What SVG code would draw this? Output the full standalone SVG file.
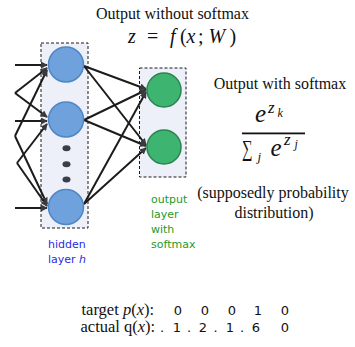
<svg xmlns="http://www.w3.org/2000/svg" width="355" height="347" viewBox="0 0 355 347">
  <style>
    .layer { fill: #edf0f8; stroke: #1a1a1a; stroke-width: 1; stroke-dasharray: 3 2; }
    .hid { fill: #6fa2dc; stroke: #4f86c6; stroke-width: 1.5; }
    .out { fill: #3db46f; stroke: #2c8452; stroke-width: 1.5; }
    .dot { fill: #3a3d4a; }
    .edge { stroke: #1c1c1c; stroke-width: 2; fill: none; marker-end: url(#arrow); }
    .ser { font-family: "Liberation Serif", "Times New Roman", serif; fill: #111; }
    .mi { font-family: "Liberation Serif", "Times New Roman", serif; font-style: italic; fill: #111; }
    .mu { font-family: "Liberation Serif", "Times New Roman", serif; fill: #111; }
    .lbl { font-family: "DejaVu Sans", Verdana, sans-serif; font-size: 11px; }
    .num { font-family: "DejaVu Sans", sans-serif; font-size: 13px; fill: #111; }
  </style>
  <defs>
    <marker id="arrow" viewBox="0 0 8 8" refX="7" refY="4" markerWidth="7" markerHeight="7" markerUnits="userSpaceOnUse" orient="auto">
      <path d="M0,0 L8,4 L0,8 z" fill="#3a3a3a"/>
    </marker>
  </defs>

  <!-- layer frames -->
  <rect class="layer" x="41" y="43" width="47" height="185"/>
  <rect class="layer" x="139.5" y="68" width="46.5" height="109"/>

  <!-- connectors -->
  <g id="connectors">
    <!-- inputs into hidden layer -->
    <line class="edge" x1="15" y1="65" x2="47" y2="65"/>
    <line class="edge" x1="15" y1="121" x2="47" y2="121"/>
    <line class="edge" x1="15" y1="208" x2="47" y2="208"/>
    <line class="edge" x1="15" y1="93" x2="47" y2="68"/>
    <line class="edge" x1="15" y1="93" x2="47" y2="117"/>
    <line class="edge" x1="15" y1="136" x2="47" y2="70"/>
    <line class="edge" x1="15" y1="136" x2="47" y2="204"/>
    <line class="edge" x1="17" y1="163" x2="47" y2="124"/>
    <line class="edge" x1="17" y1="163" x2="47" y2="206"/>
    <!-- hidden layer into output layer -->
    <line class="edge" x1="84" y1="66" x2="146" y2="89"/>
    <line class="edge" x1="84" y1="66" x2="146" y2="145"/>
    <line class="edge" x1="84" y1="120" x2="146" y2="90"/>
    <line class="edge" x1="84" y1="120" x2="146" y2="146"/>
    <line class="edge" x1="84" y1="204" x2="146" y2="92"/>
    <line class="edge" x1="84" y1="204" x2="146" y2="148"/>
  </g>

  <!-- hidden layer nodes -->
  <g id="h1"><circle class="hid" cx="66" cy="64.5" r="17.5"/></g>
  <g id="h2"><circle class="hid" cx="66" cy="119.5" r="17.5"/></g>
  <g id="hdots">
    <ellipse class="dot" cx="66.5" cy="148.3" rx="4" ry="3"/>
    <ellipse class="dot" cx="66.5" cy="164.3" rx="4" ry="3"/>
    <ellipse class="dot" cx="66.5" cy="179.5" rx="4" ry="3"/>
  </g>
  <g id="h3"><circle class="hid" cx="66" cy="207" r="17.5"/></g>

  <!-- output layer nodes -->
  <g id="o1"><circle class="out" cx="164" cy="90" r="17"/></g>
  <g id="o2"><circle class="out" cx="164" cy="147" r="17"/></g>

  <!-- layer labels -->
  <g id="hidden-label" fill="#2a2ae6">
    <text class="lbl" x="48" y="248">hidden</text>
    <text class="lbl" x="48" y="263">layer <tspan font-style="italic">h</tspan></text>
  </g>
  <g id="output-label" fill="#1e9a28">
    <text class="lbl" x="151" y="203">output</text>
    <text class="lbl" x="151" y="218">layer</text>
    <text class="lbl" x="151" y="233">with</text>
    <text class="lbl" x="151" y="248">softmax</text>
  </g>

  <!-- raw output -->
  <g id="raw-output">
    <text class="ser" x="172.5" y="19" font-size="16" text-anchor="middle">Output without softmax</text>
    <text font-size="20">
      <tspan class="mi" x="128" y="42.5">z</tspan>
      <tspan class="mu" x="147" y="42.5">=</tspan>
      <tspan class="mi" x="170" y="42.5">f</tspan>
      <tspan class="mu" x="180" y="42.5">(</tspan>
      <tspan class="mi" x="186.5" y="42.5">x</tspan>
      <tspan class="mu" x="198" y="42.5">;</tspan>
      <tspan class="mi" x="208.5" y="42.5">W</tspan>
      <tspan class="mu" x="229.5" y="42.5">)</tspan>
    </text>
  </g>

  <!-- softmax output -->
  <g id="softmax-output">
    <text class="ser" x="280" y="88.5" font-size="16" text-anchor="middle">Output with softmax</text>
    <text class="mi" x="255" y="121.7" font-size="25">e</text>
    <text class="mi" x="268" y="113" font-size="17">z</text>
    <text class="mi" x="277.5" y="116.5" font-size="12">k</text>
    <rect x="242" y="132.5" width="63" height="1.8" fill="#111"/>
    <text class="mu" x="242" y="156" font-size="23" textLength="10.5" lengthAdjust="spacingAndGlyphs">∑</text>
    <text class="mi" x="257.5" y="161" font-size="13">j</text>
    <text class="mi" x="270.5" y="156" font-size="25">e</text>
    <text class="mi" x="284" y="145" font-size="17">z</text>
    <text class="mi" x="294.5" y="147.5" font-size="12">j</text>
    <text class="ser" x="273" y="198" font-size="16" text-anchor="middle">(supposedly probability</text>
    <text class="ser" x="274" y="218" font-size="16" text-anchor="middle">distribution)</text>
  </g>

  <!-- target vs actual distributions -->
  <g id="distributions">
    <text class="ser" x="81.5" y="314.5" font-size="16.5">target <tspan class="mi">p</tspan><tspan class="mu">(</tspan><tspan class="mi">x</tspan><tspan class="mu">):</tspan></text>
    <text class="ser" x="80.5" y="332" font-size="16.5">actual <tspan class="mu">q(</tspan><tspan class="mi">x</tspan><tspan class="mu">):</tspan></text>
    <text class="num" y="314.5" text-anchor="middle">
      <tspan x="178">0</tspan><tspan x="205">0</tspan><tspan x="232">0</tspan><tspan x="258">1</tspan><tspan x="285">0</tspan>
    </text>
    <text class="num" y="332" text-anchor="middle">
      <tspan x="162">.</tspan><tspan x="179">1</tspan>
      <tspan x="189">.</tspan><tspan x="205">2</tspan>
      <tspan x="215.5">.</tspan><tspan x="232">1</tspan>
      <tspan x="242">.</tspan><tspan x="258">6</tspan>
      <tspan x="285">0</tspan>
    </text>
  </g>
</svg>
